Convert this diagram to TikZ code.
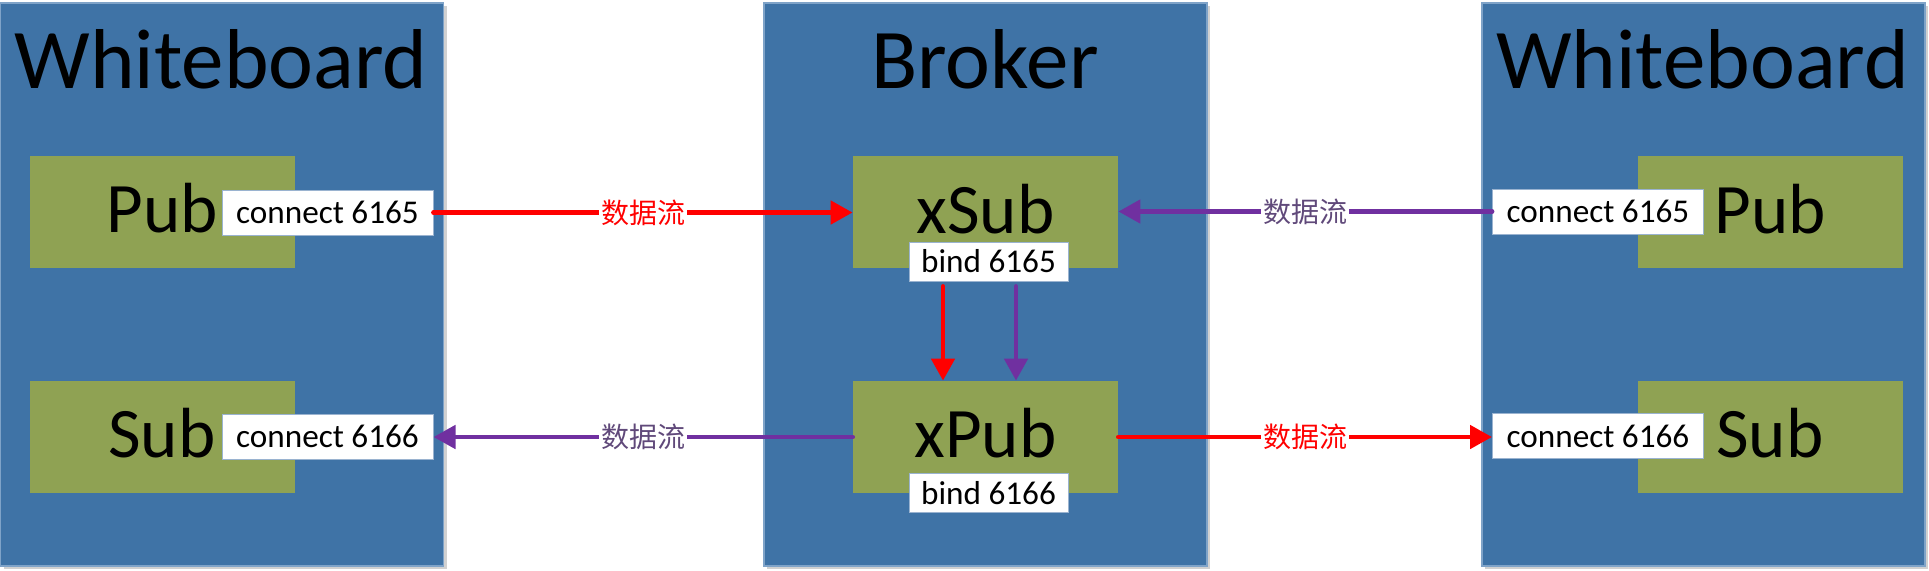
\documentclass[tikz,border=0pt]{standalone}
\usepackage{fontspec}
\setmainfont{Carlito}
\newfontfamily\cjk{Noto Sans CJK SC}
\usetikzlibrary{arrows.meta,shadows}
\definecolor{boardblue}{HTML}{3F73A6}
\definecolor{boardedge}{HTML}{7FA3C8}
\definecolor{boxgreen}{HTML}{8FA253}
\definecolor{labeledge}{HTML}{9AB3D0}
\definecolor{flowred}{HTML}{FF0000}
\definecolor{flowpurple}{HTML}{7030A0}
\definecolor{flowpurpletext}{HTML}{60497A}
\begin{document}
\begin{tikzpicture}[x=0.5pt,y=-0.5pt,
  board/.style={draw=boardedge, line width=0.6pt, fill=boardblue,
    minimum width=221.5pt, minimum height=281.5pt, inner sep=0pt,
    drop shadow={shadow xshift=1.5pt, shadow yshift=-1.5pt, fill=black, opacity=0.18}},
  titletext/.style={anchor=base, inner sep=0pt, font=\fontsize{42.5pt}{50pt}\selectfont},
  part/.style={fill=boxgreen, minimum width=132.5pt, minimum height=56pt, inner sep=0pt},
  parttext/.style={anchor=base, inner sep=0pt, font=\fontsize{35.5pt}{42pt}\selectfont},
  port/.style={draw=labeledge, line width=0.5pt, fill=white, inner sep=0pt,
    minimum width=105.5pt, minimum height=22.5pt, font=\fontsize{16.6pt}{19pt}\selectfont},
  bindport/.style={port, minimum width=79.5pt, minimum height=19.5pt},
  flow/.style={line width=2.4pt, line cap=round, -{Triangle[length=11pt,width=11.5pt]}},
  flowlbl/.style={fill=white, inner xsep=1pt, inner ysep=1pt, font=\cjk\fontsize{14pt}{16pt}\selectfont}
]
\useasboundingbox (0,0) rectangle (1929,570);

% boards
\node[board] (lb) at (222,284.5) {};
\node[board] (bb) at (985.5,284.5) {};
\node[board] (rb) at (1703.5,284.5) {};

\node[titletext] (lbt) at (221,88) {Whiteboard};
\node[titletext] (bbt) at (985,88) {Broker};
\node[titletext] (rbt) at (1702.5,88) {Whiteboard};

% green parts
\node[part] (lpub) at (162.5,211.5) {};
\node[part] (lsub) at (162.5,437) {};
\node[part] (xsub) at (985.5,212) {};
\node[part] (xpub) at (985.5,437) {};
\node[part] (rpub) at (1770,211.5) {};
\node[part] (rsub) at (1770,437) {};

\node[parttext] (lpubt) at (162,232) {Pub};
\node[parttext] (lsubt) at (162,457) {Sub};
\node[parttext] (xsubt) at (985.5,233) {xSub};
\node[parttext] (xpubt) at (985.5,457) {xPub};
\node[parttext] (rpubt) at (1770,233) {Pub};
\node[parttext] (rsubt) at (1770,457) {Sub};

% port labels
\node[port] (lc1) at (327.5,212.5) {connect 6165};
\node[port] (lc2) at (327.5,436.5) {connect 6166};
\node[port] (rc1) at (1598,211.5) {connect 6165};
\node[port] (rc2) at (1598,436) {connect 6166};
\node[bindport] (b1) at (988.5,261.5) {bind 6165};
\node[bindport] (b2) at (988.5,493) {bind 6166};

% horizontal flows
\draw[flow, flowred] (lc1.east) -- node[flowlbl, text=flowred] (f1) {数据流} (lc1.east -| xsub.west);
\draw[flow, flowpurple] (rc1.west) -- node[flowlbl, text=flowpurpletext] (f2) {数据流} (rc1.west -| xsub.east);
\draw[flow, flowpurple] (xpub.west) -- node[flowlbl, text=flowpurpletext] (f3) {数据流} (xpub.west -| lc2.east);
\draw[flow, flowred] (xpub.east) -- node[flowlbl, text=flowred] (f4) {数据流} (xpub.east -| rc2.west);

% vertical flows inside broker
\coordinate (r1s) at ([xshift=-22.75pt,yshift=-2.5pt]b1.south);
\coordinate (p1s) at ([xshift=13.75pt,yshift=-2.5pt]b1.south);
\draw[flow, flowred] (r1s) -- (r1s |- xpub.north);
\draw[flow, flowpurple] (p1s) -- (p1s |- xpub.north);
\end{tikzpicture}
\end{document}
